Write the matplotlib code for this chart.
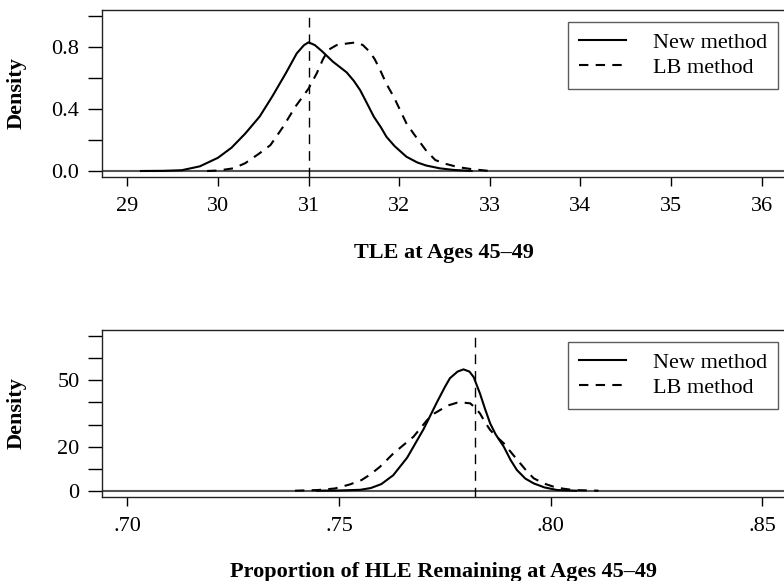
import matplotlib
matplotlib.use("Agg")
import matplotlib.pyplot as plt

# TLE at ages 45-49 (top panel)
tle_new_x = [29.15, 29.4, 29.6, 29.8, 30.0, 30.15, 30.3, 30.46, 30.6, 30.75, 30.87, 30.95, 31.0,
             31.07, 31.15, 31.27, 31.42, 31.5, 31.57, 31.65, 31.72, 31.8, 31.86, 31.95, 32.08,
             32.2, 32.3, 32.45, 32.6, 32.8]
tle_new_y = [0.0, 0.001, 0.005, 0.03, 0.085, 0.15, 0.24, 0.35, 0.48, 0.63, 0.757, 0.81, 0.828,
             0.81, 0.77, 0.703, 0.635, 0.58, 0.52, 0.43, 0.35, 0.28, 0.22, 0.16, 0.092,
             0.055, 0.035, 0.017, 0.007, 0.0]
tle_lb_x = [29.88, 30.0, 30.17, 30.3, 30.45, 30.58, 30.72, 30.85, 31.0, 31.09, 31.16, 31.22,
            31.31, 31.42, 31.53, 31.6, 31.67, 31.73, 31.79, 31.86, 31.94, 32.02, 32.08, 32.16,
            32.3, 32.4, 32.52, 32.65, 32.8, 33.0]
tle_lb_y = [0.0, 0.003, 0.017, 0.05, 0.11, 0.167, 0.285, 0.41, 0.53, 0.628, 0.72, 0.78,
            0.81, 0.82, 0.828, 0.81, 0.77, 0.72, 0.65, 0.56, 0.478, 0.38, 0.307, 0.24,
            0.13, 0.07, 0.045, 0.025, 0.012, 0.0]
tle_ref = 31.0

# proportion of HLE remaining (bottom panel)
hle_new_x = [0.7448, 0.750, 0.755, 0.7575, 0.760, 0.7628, 0.7661, 0.770, 0.7731, 0.7750, 0.7762,
             0.7780, 0.7794, 0.7808, 0.7818, 0.7833, 0.7845, 0.7857, 0.7870, 0.7889, 0.7905,
             0.7920, 0.7940, 0.7960, 0.7985, 0.8015, 0.806]
hle_new_y = [0.0, 0.1, 0.4, 1.2, 3.0, 7.0, 15, 28, 40, 47, 51,
             54, 55, 54, 51.5, 44, 37, 30.5, 25.5, 20, 14,
             9.4, 5.5, 3.3, 1.5, 0.3, 0.0]
hle_lb_x = [0.7396, 0.745, 0.749, 0.7525, 0.7553, 0.7575, 0.7597, 0.7629, 0.7676, 0.7708, 0.7725,
            0.7739, 0.7760, 0.7779, 0.7795, 0.7810, 0.7822, 0.7833, 0.7845, 0.7857, 0.7872,
            0.7889, 0.7908, 0.7928, 0.7945, 0.7960, 0.7985, 0.8007, 0.8030, 0.8054, 0.8113]
hle_lb_y = [0.0, 0.3, 1.0, 2.8, 4.8, 7.5, 10.9, 17, 24.5, 32, 35,
            36.6, 38.8, 39.9, 39.9, 39.6, 37.5, 35, 31, 27.5, 24.5,
            21.5, 17, 12.4, 8.5, 5.6, 3.2, 1.8, 0.9, 0.3, 0.0]
hle_ref = 0.782

plt.rcParams['font.family'] = ['Liberation Serif', 'DejaVu Serif']
FS = 16
DASH = (0, (4.5, 3.5))

fig = plt.figure(figsize=(7.84, 5.81), dpi=100)
W, H = 784, 581


def panel(box, new_x, new_y, lb_x, lb_y, ref, xlim, ylim, xticks, xlabels,
          yticks, ylabels, xlabel, xlabel_base):
    l, t, r, b = box
    ax = fig.add_axes([l / W, 1 - b / H, (r - l) / W, (b - t) / H])
    ax.axhline(0, color='#555555', lw=1.5, zorder=1)
    ax.axvline(ref, color='black', lw=1.0, linestyle=(0, (7, 5)), zorder=2)
    ax.plot(new_x, new_y, color='black', lw=1.5, label='New method', zorder=3)
    ax.plot(lb_x, lb_y, color='black', lw=1.5, linestyle=DASH, label='LB method', zorder=3)
    ax.set_xlim(*xlim)
    ax.set_ylim(*ylim)
    ax.set_xticks(xticks)
    ax.set_xticklabels(xlabels)
    ax.set_yticks(yticks)
    ax.set_yticklabels(ylabels)
    ax.tick_params(axis='x', length=6.5, width=1.0, pad=8, labelsize=FS)
    ax.tick_params(axis='y', length=10, width=1.0, pad=6, labelsize=FS)
    for s in ax.spines.values():
        s.set_linewidth(1.0)
        s.set_color('#222222')
    leg = ax.legend(loc='upper right', bbox_to_anchor=((778 - l) / (r - l), 1 - 11.5 / (b - t)),
                    fontsize=FS, frameon=True, fancybox=False, handlelength=2.1,
                    handletextpad=1.2, borderpad=0.5, borderaxespad=0, labelspacing=0.2)
    leg.get_frame().set_edgecolor('#333333')
    leg.get_frame().set_linewidth(1.0)
    fig.text(17 / W, 1 - (t + b) / 2 / H, 'Density', rotation=90, fontsize=FS,
             fontweight='bold', ha='center', va='center')
    fig.text(444 / W, 1 - xlabel_base / H, xlabel, fontsize=FS, fontweight='bold',
             ha='center', va='baseline')
    return ax


panel((101.7, 10, 786, 177), tle_new_x, tle_new_y, tle_lb_x, tle_lb_y, tle_ref,
      (28.717, 36.27), (-0.0386, 1.036), list(range(29, 37)), [str(v) for v in range(29, 37)],
      [0.0, 0.2, 0.4, 0.6, 0.8, 1.0], ['0.0', '', '0.4', '', '0.8', ''],
      'TLE at Ages 45–49', 258)

panel((101.7, 330, 786, 496.7), hle_new_x, hle_new_y, hle_lb_x, hle_lb_y, hle_ref,
      (0.69395, 0.85557), (-2.72, 72.85), [0.70, 0.75, 0.80, 0.85], ['.70', '.75', '.80', '.85'],
      [0, 10, 20, 30, 40, 50, 60, 70], ['0', '', '20', '', '', '50', '', ''],
      'Proportion of HLE Remaining at Ages 45–49', 576.5)

fig.savefig('out.png', dpi=100)
